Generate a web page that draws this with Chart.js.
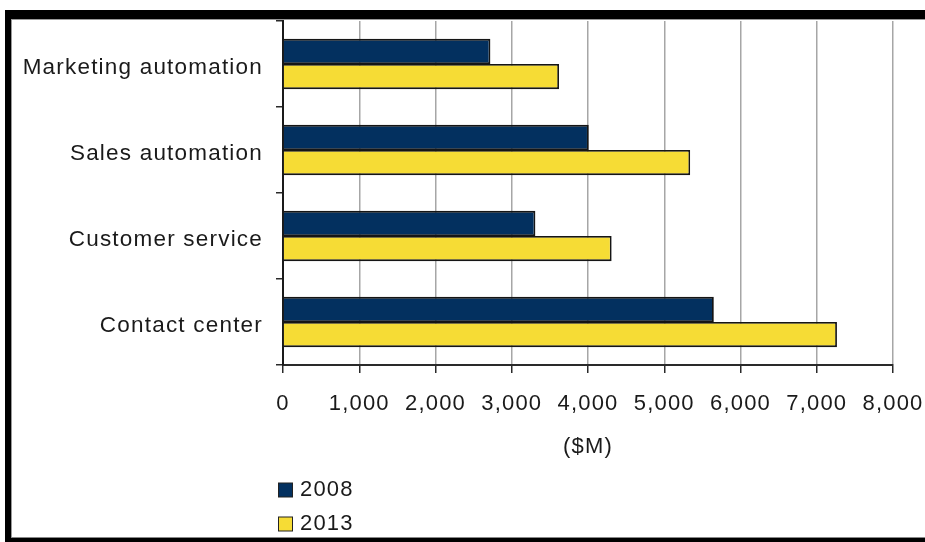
<!DOCTYPE html>
<html>
<head>
<meta charset="utf-8">
<script src="https://cdn.jsdelivr.net/npm/chart.js@4/dist/chart.umd.min.js"></script>
<style>
  html, body { margin: 0; padding: 0; background: #fff; }
  #wrap { position: relative; width: 925px; height: 542px; overflow: hidden; }
  #bar-chart { position: absolute; left: 0; top: 0; }
  .frame { position: absolute; }
</style>
</head>
<body>
<div id="wrap">
  <canvas id="bar-chart" width="925" height="542"></canvas>
  <div class="frame" style="left:5px;top:10px;width:920px;height:9px;background:#000"></div>
  <div class="frame" style="left:11px;top:19px;width:914px;height:1px;background:#999"></div>
  <div class="frame" style="left:5px;top:10px;width:6px;height:532px;background:#000"></div>
  <div class="frame" style="left:11px;top:19px;width:1px;height:520px;background:#999"></div>
  <div class="frame" style="left:11px;top:537px;width:914px;height:1px;background:#888"></div>
  <div class="frame" style="left:5px;top:538px;width:920px;height:4px;background:#000"></div>
</div>
<script>
const categories = ['Marketing automation', 'Sales automation', 'Customer service', 'Contact center'];
const values2008 = [2720, 4010, 3310, 5650];
const values2013 = [3620, 5340, 4310, 7265];
const xTicks = [0, 1000, 2000, 3000, 4000, 5000, 6000, 7000, 8000];

const navy = '#03305f';
const yellow = '#f6dc35';
const spacing = '1.2px';

Chart.defaults.font.family = '"Liberation Sans", Arial, sans-serif';
Chart.defaults.font.size = 22;
Chart.defaults.color = '#1a1a1a';

// old-style wide text
const spacedText = {
  id: 'spacedText',
  beforeLayout(chart) { chart.ctx.letterSpacing = spacing; },
  beforeDraw(chart) { chart.ctx.letterSpacing = spacing; }
};

// legend stacked below the plot, one entry per line
const stackedLegend = {
  id: 'stackedLegend',
  afterDraw(chart) {
    const ctx = chart.ctx;
    ctx.save();
    ctx.letterSpacing = spacing;
    ctx.font = '22px "Liberation Sans", Arial, sans-serif';
    ctx.textBaseline = 'middle';
    chart.data.datasets.forEach((ds, i) => {
      const y = 490 + i * 34;
      ctx.fillStyle = ds.backgroundColor;
      ctx.fillRect(278.5, y - 7, 14, 14);
      ctx.strokeStyle = '#222';
      ctx.lineWidth = 1;
      ctx.strokeRect(278.5, y - 7, 14, 14);
      ctx.fillStyle = '#1a1a1a';
      ctx.fillText(ds.label, 300, y);
    });
    ctx.restore();
  }
};

const barChart = document.getElementById('bar-chart');

const data = {
  labels: categories,
  datasets: [{
    label: '2008',
    data: values2008,
    backgroundColor: navy,
    borderColor: '#151515',
    borderWidth: 1.8
  }, {
    label: '2013',
    data: values2013,
    backgroundColor: yellow,
    borderColor: '#151515',
    borderWidth: 1.8
  }]
};

const config = {
  type: 'bar',
  data,
  options: {
    indexAxis: 'y',
    responsive: false,
    animation: false,
    categoryPercentage: 0.585,
    barPercentage: 1,
    layout: { padding: { top: 21, left: 12, right: 0, bottom: 77 } },
    plugins: {
      legend: { display: false },
      tooltip: { enabled: false }
    },
    scales: {
      x: {
        min: 0,
        max: 8000,
        afterBuildTicks(scale) { scale.ticks = xTicks.map(v => ({ value: v })); },
        afterFit(scale) {
          scale.height = 100;
          scale.paddingLeft = 0;
          scale.paddingRight = 32;
        },
        ticks: {
          padding: 18,
          callback: v => v.toLocaleString('en-US')
        },
        grid: {
          color: '#a6a6a6',
          lineWidth: 1.5,
          tickColor: '#2a2a2a',
          tickLength: 8,
          tickWidth: 1.5
        },
        border: { color: '#2a2a2a', width: 2 },
        title: {
          display: true,
          text: '($M)',
          padding: { top: 0, bottom: 5 }
        }
      },
      y: {
        afterFit(scale) {
          scale.width = 283 - 12;
          scale.paddingTop = 0;
          scale.paddingBottom = 0;
        },
        ticks: { padding: 13, labelOffset: 4, font: { size: 22.5 } },
        grid: {
          drawOnChartArea: false,
          offset: true,
          color: '#2a2a2a',
          tickLength: 7,
          lineWidth: 1.5
        },
        border: { color: '#1a1a1a', width: 2 }
      }
    }
  },
  plugins: [spacedText, stackedLegend]
};

const myChart = new Chart(barChart, config);
</script>
</body>
</html>
